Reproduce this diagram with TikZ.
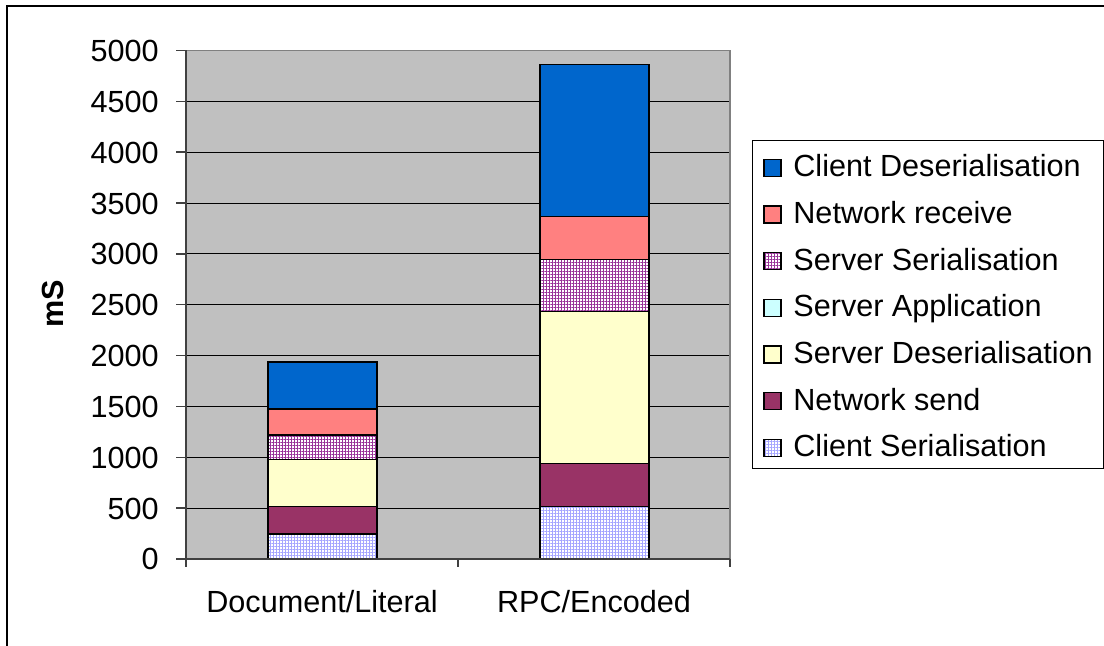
\documentclass[tikz,border=0pt]{standalone}
\usepackage{fontspec}
\setmainfont{Liberation Sans}
\usetikzlibrary{patterns.meta}

\definecolor{clidesblue}{RGB}{0,102,204}
\definecolor{netrecpink}{RGB}{255,128,128}
\definecolor{srvserpurple}{RGB}{153,51,153}
\definecolor{srvappcyan}{RGB}{204,255,255}
\definecolor{srvdesyellow}{RGB}{255,255,204}
\definecolor{netsendwine}{RGB}{153,51,102}
\definecolor{cliserlav}{RGB}{165,165,255}
\definecolor{plotgray}{RGB}{192,192,192}

\tikzset{
  seg/.style={draw=black,line width=0.75pt},
  gridline/.style={black,line width=0.5pt},
  axisline/.style={black!75,line width=0.75pt},
  ticklabel/.style={anchor=base east,inner sep=0pt},
  leglabel/.style={anchor=base west,inner sep=0pt},
  cliserfill/.style={pattern={Hatch[angle=0,distance=1.5pt,line width=0.5pt]},pattern color=cliserlav},
  srvserfill/.style={pattern={Hatch[angle=0,distance=1.5pt,line width=0.45pt]},pattern color=srvserpurple}
}

\begin{document}
\begin{tikzpicture}[x=0.5pt,y=-0.5pt,font=\fontsize{15.3}{18}\selectfont]
        \useasboundingbox (0,0) rectangle (1104,646);

        % outer frame
        \draw [black,line width=0.75pt] (7,646) -- (7,6) -- (1104,6);

        % plot area
        \path[fill=plotgray] (186,50.5) rectangle (730,559);
        \draw [gridline] (186,508.15) -- (730,508.15);
        \draw [gridline] (186,457.3) -- (730,457.3);
        \draw [gridline] (186,406.45) -- (730,406.45);
        \draw [gridline] (186,355.6) -- (730,355.6);
        \draw [gridline] (186,304.75) -- (730,304.75);
        \draw [gridline] (186,253.9) -- (730,253.9);
        \draw [gridline] (186,203.05) -- (730,203.05);
        \draw [gridline] (186,152.2) -- (730,152.2);
        \draw [gridline] (186,101.35) -- (730,101.35);
        \draw [black!50,line width=0.75pt] (186,50.5) -- (730,50.5) -- (730,559);

        % Document/Literal bar
        \path[fill=white] (268,559) rectangle (377,534);
        \path[cliserfill] (268,559) rectangle (377,534);
        \draw [seg] (268,559) rectangle (377,534);
        \draw [seg,fill=netsendwine] (268,534) rectangle (377,506.7);
        \draw [seg,fill=srvdesyellow] (268,506.7) rectangle (377,459.3);
        \path[fill=white] (268,459.3) rectangle (377,435);
        \path[srvserfill] (268,459.3) rectangle (377,435);
        \draw [seg] (268,459.3) rectangle (377,435);
        \draw [seg,fill=netrecpink] (268,435) rectangle (377,409);
        \draw [seg,fill=clidesblue] (268,409) rectangle (377,362);

        % RPC/Encoded bar
        \path[fill=white] (540,559) rectangle (649,506.7);
        \path[cliserfill] (540,559) rectangle (649,506.7);
        \draw [seg] (540,559) rectangle (649,506.7);
        \draw [seg,fill=netsendwine] (540,506.7) rectangle (649,463.3);
        \draw [seg,fill=srvdesyellow] (540,463.3) rectangle (649,311.7);
        \path[fill=white] (540,311.7) rectangle (649,259.3);
        \path[srvserfill] (540,311.7) rectangle (649,259.3);
        \draw [seg] (540,311.7) rectangle (649,259.3);
        \draw [seg,fill=netrecpink] (540,259.3) rectangle (649,216.3);
        \draw [seg,fill=clidesblue] (540,216.3) rectangle (649,64.3);

        % axes and ticks
        \draw [axisline] (186,50.5) -- (186,567);
        \draw [axisline] (176,559) -- (730,559);
        \draw [axisline] (458,559) -- (458,567);
        \draw [axisline] (730,559) -- (730,567);
        \draw [axisline] (176,508.15) -- (186,508.15);
        \draw [axisline] (176,457.3) -- (186,457.3);
        \draw [axisline] (176,406.45) -- (186,406.45);
        \draw [axisline] (176,355.6) -- (186,355.6);
        \draw [axisline] (176,304.75) -- (186,304.75);
        \draw [axisline] (176,253.9) -- (186,253.9);
        \draw [axisline] (176,203.05) -- (186,203.05);
        \draw [axisline] (176,152.2) -- (186,152.2);
        \draw [axisline] (176,101.35) -- (186,101.35);
        \draw [axisline] (176,50.5) -- (186,50.5);

        \node[ticklabel] (y0) at (159,570) {0};
        \node[ticklabel] (y500) at (159,519.15) {500};
        \node[ticklabel] (y1000) at (159,468.3) {1000};
        \node[ticklabel] (y1500) at (159,417.45) {1500};
        \node[ticklabel] (y2000) at (159,366.6) {2000};
        \node[ticklabel] (y2500) at (159,315.75) {2500};
        \node[ticklabel] (y3000) at (159,264.9) {3000};
        \node[ticklabel] (y3500) at (159,214.05) {3500};
        \node[ticklabel] (y4000) at (159,163.2) {4000};
        \node[ticklabel] (y4500) at (159,112.35) {4500};
        \node[ticklabel] (y5000) at (159,61.5) {5000};

        \node[rotate=90,font=\fontsize{15.3}{18}\selectfont\bfseries] (ylabel) at (53,304) {mS};

        \node[anchor=base,inner sep=0pt] (doclit) at (322,613) {Document/Literal};
        \node[anchor=base,inner sep=0pt] (rpcenc) at (594,613) {RPC/Encoded};

        % legend
        \draw [black,line width=0.5pt] (752,141) rectangle (1103,469);

        \draw [black,line width=0.6pt,fill=clidesblue] (764,159.3) rectangle (781,176.3);
        \draw [black,line width=0.6pt,fill=netrecpink] (764,206) rectangle (781,223);
        \path[fill=white] (764,252.7) rectangle (781,269.7);
        \path[srvserfill] (764,252.7) rectangle (781,269.7);
        \draw [black,line width=0.6pt] (764,252.7) rectangle (781,269.7);
        \draw [black,line width=0.6pt,fill=srvappcyan] (764,299.4) rectangle (781,316.4);
        \draw [black,line width=0.6pt,fill=srvdesyellow] (764,346.1) rectangle (781,363.1);
        \draw [black,line width=0.6pt,fill=netsendwine] (764,392.8) rectangle (781,409.8);
        \path[fill=white] (764,439.5) rectangle (781,456.5);
        \path[cliserfill] (764,439.5) rectangle (781,456.5);
        \draw [black,line width=0.6pt] (764,439.5) rectangle (781,456.5);

        \node[leglabel] (legclides) at (793,176.7) {Client Deserialisation};
        \node[leglabel] (legnetrec) at (793,223.4) {Network receive};
        \node[leglabel] (legsrvser) at (793,270.1) {Server Serialisation};
        \node[leglabel] (legsrvapp) at (793,316.8) {Server Application};
        \node[leglabel] (legsrvdes) at (793,363.5) {Server Deserialisation};
        \node[leglabel] (legnetsend) at (793,410.2) {Network send};
        \node[leglabel] (legcliser) at (793,456.9) {Client Serialisation};

\end{tikzpicture}
\end{document}
